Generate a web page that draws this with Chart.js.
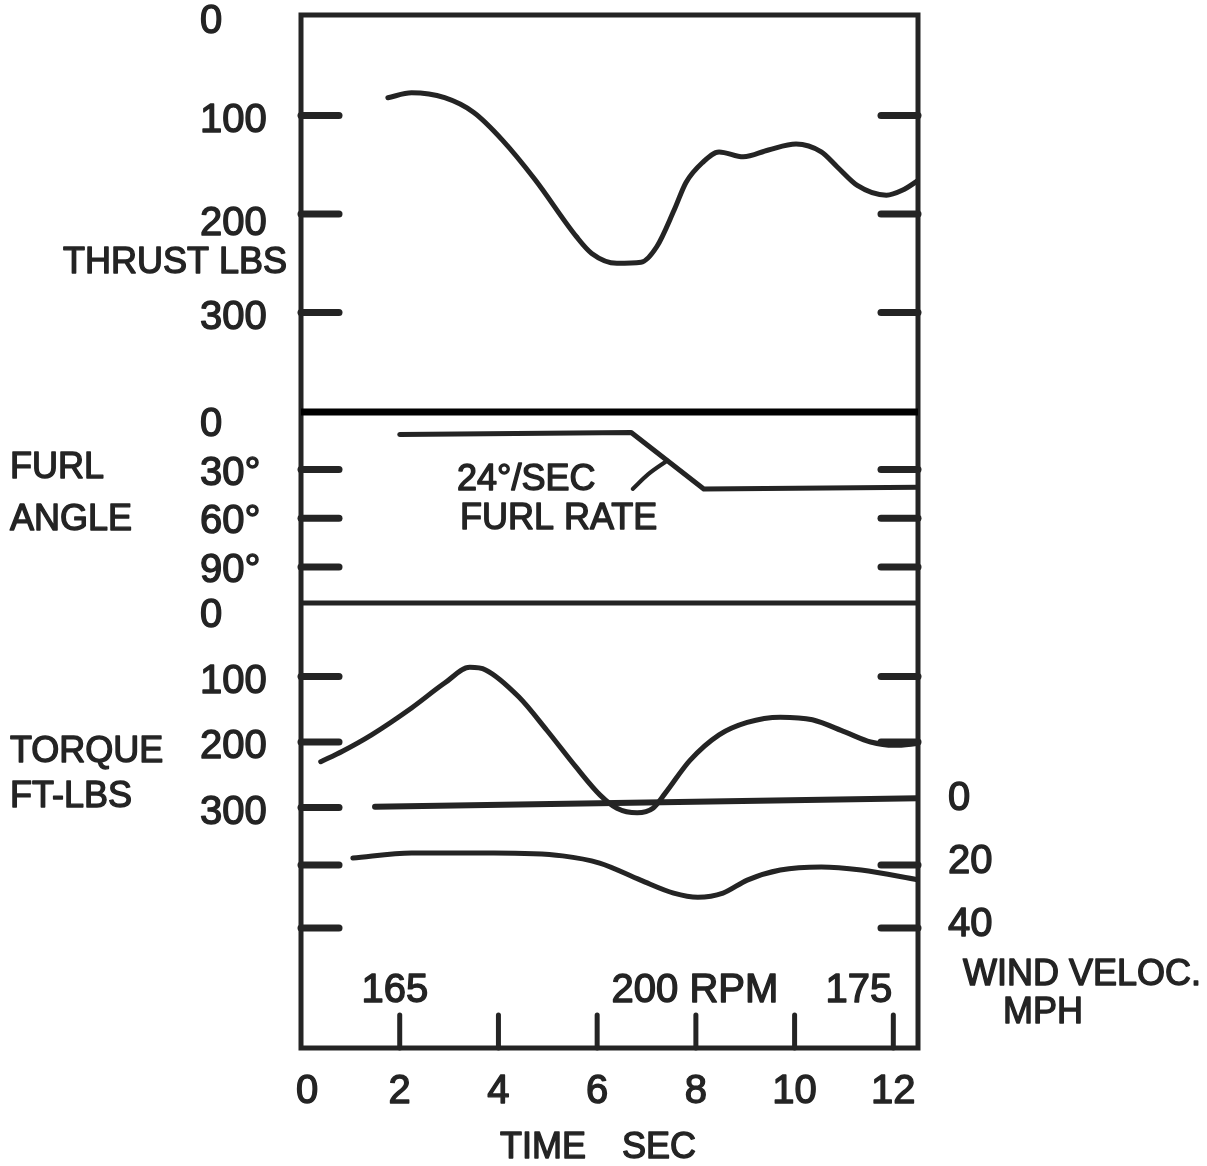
<!DOCTYPE html>
<html>
<head>
<meta charset="utf-8">
<script src="https://cdn.jsdelivr.net/npm/chart.js@4"></script>
<style>
  body { margin: 0; background: #fff; }
  canvas { display: block; }
</style>
</head>
<body>
<canvas id="chart" width="1207" height="1166"></canvas>
<script>
// time axis, sec
const timeTicks = [0, 2, 4, 6, 8, 10, 12];

// thrust, lbs (axis runs downward)
const thrustTicks = [0, 100, 200, 300];
const thrustTime = [1.76, 2.24, 2.91, 3.50, 4.08, 4.74, 5.58, 5.89, 6.40, 6.89, 7.21, 7.56, 7.80, 8.13, 8.47, 8.96, 9.47, 10.03, 10.54, 10.86, 11.27, 11.86, 12.18, 12.53];
const thrustLbs = [82, 77, 82, 97, 125, 165, 223, 240, 250, 249, 233, 196, 168, 148, 137, 142, 135, 129, 137, 152, 171, 181, 176, 165];

// furl angle, degrees
const furlTicks = [0, 30, 60, 90];
const furlLabels = ['0', '30°', '60°', '90°'];
const furlTime = [2.0, 6.69, 8.16, 12.5];
const furlDeg = [8.5, 7.2, 42, 41];
// leader from the "24°/SEC" note to the furl ramp
const leaderTime = [6.72, 7.03, 7.42];
const leaderDeg = [42, 33, 24.5];

// torque, ft-lbs (axis runs downward)
const torqueTicks = [0, 100, 200, 300];
const torqueTime = [0.40, 0.84, 1.43, 2.24, 2.91, 3.42, 3.74, 4.41, 4.98, 5.57, 6.06, 6.40, 6.81, 7.13, 7.38, 7.88, 8.47, 9.04, 9.71, 10.36, 11.03, 11.54, 12.02, 12.53];
const torqueFtLbs = [230, 214, 189, 148, 110, 86, 90, 131, 182, 238, 281, 301, 308, 301, 278, 228, 189, 170, 162, 166, 185, 200, 205, 202];

// wind velocity, mph (right axis, runs downward)
const windTicks = [0, 20, 40];
const windTime = [1.05, 2.24, 3.91, 5.30, 6.05, 6.88, 7.55, 8.04, 8.55, 9.04, 9.71, 10.54, 11.35, 12.53];
const windMph = [17.8, 16.2, 16.2, 17.1, 19.4, 24.8, 28.9, 30.2, 28.9, 24.8, 21.6, 20.6, 21.6, 24.8];
const windZeroTime = [1.5, 12.5];
const windZeroMph = [1.5, -1.2];

// rotor speed notes along the time axis
const rpmTime = [1.9, 7.98, 11.3];
const rpmText = ['165', '200 RPM', '175'];

function pts(xs, ys) {
  return xs.map((x, i) => ({ x: x, y: ys[i] }));
}

const ink = '#242424';
const wordFont = '36px "Liberation Sans", Arial, sans-serif';
const numFont = '40px "Liberation Sans", Arial, sans-serif';

function line(data, axis, width, straight) {
  return {
    data: data,
    yAxisID: axis,
    borderColor: ink,
    borderWidth: width || 5,
    pointRadius: 0,
    cubicInterpolationMode: straight ? 'default' : 'monotone',
    tension: straight ? 0 : 0.4,
    borderCapStyle: 'round',
    borderJoinStyle: 'round',
    fill: false
  };
}

// write text twice so the strokes read as heavy pen lettering
function ink2(ctx, text, x, y) {
  ctx.fillText(text, x, y);
  ctx.strokeText(text, x, y);
}

const sketch = {
  id: 'sketch',
  afterDatasetsDraw(chart) {
    const ctx = chart.ctx;
    const a = chart.chartArea;
    const s = chart.scales;
    ctx.save();
    ctx.strokeStyle = ink;
    ctx.lineCap = 'round';

    // frame
    ctx.lineWidth = 5;
    ctx.strokeRect(a.left, a.top, a.right - a.left, a.bottom - a.top);
    ctx.lineCap = 'butt';
    ctx.strokeStyle = '#000';
    ctx.lineWidth = 7;
    ctx.beginPath();
    ctx.moveTo(a.left, s.yThrust.bottom);
    ctx.lineTo(a.right, s.yThrust.bottom);
    ctx.stroke();
    ctx.strokeStyle = ink;
    ctx.lineWidth = 5;
    ctx.beginPath();
    ctx.moveTo(a.left, s.yFurl.bottom);
    ctx.lineTo(a.right, s.yFurl.bottom);
    ctx.stroke();

    // tick marks on both sides
    ctx.lineCap = 'round';
    ctx.lineWidth = 7;
    function marks(scale, values, left, right) {
      values.forEach(v => {
        const y = scale.getPixelForValue(v);
        if (left) {
          ctx.beginPath(); ctx.moveTo(a.left, y); ctx.lineTo(a.left + 38, y); ctx.stroke();
        }
        if (right) {
          ctx.beginPath(); ctx.moveTo(a.right - 37, y); ctx.lineTo(a.right, y); ctx.stroke();
        }
      });
    }
    marks(s.yThrust, thrustTicks.slice(1), true, true);
    marks(s.yFurl, furlTicks.slice(1), true, true);
    marks(s.yTorque, torqueTicks.slice(1), true, false);
    marks(s.yTorque, [100, 200], false, true);
    marks(s.yWind, windTicks.slice(1), true, true);

    // time ticks rising from the bottom edge
    ctx.lineWidth = 5;
    timeTicks.slice(1).forEach(t => {
      const x = s.x.getPixelForValue(t);
      ctx.beginPath(); ctx.moveTo(x, a.bottom); ctx.lineTo(x, a.bottom - 33); ctx.stroke();
    });

    // tick labels
    ctx.fillStyle = ink;
    ctx.lineWidth = 1.4;
    ctx.lineJoin = 'round';
    ctx.font = numFont;
    ctx.textBaseline = 'middle';
    ctx.textAlign = 'left';
    const lx = a.left - 101;
    thrustTicks.forEach(v => ink2(ctx, String(v), lx, s.yThrust.getPixelForValue(v) + (v === 200 ? 10 : 5)));
    furlTicks.forEach((v, i) => ink2(ctx, furlLabels[i], lx, s.yFurl.getPixelForValue(v) + 4));
    torqueTicks.forEach(v => ink2(ctx, String(v), lx, s.yTorque.getPixelForValue(v) + 5));
    windTicks.forEach(v => ink2(ctx, String(v), a.right + 30, s.yWind.getPixelForValue(v) - 3));
    ctx.textAlign = 'center';
    timeTicks.forEach(t => ink2(ctx, String(t), s.x.getPixelForValue(t) + (t === 0 ? 6 : 0), a.bottom + 44));
    rpmTime.forEach((t, i) => ink2(ctx, rpmText[i], s.x.getPixelForValue(t), a.bottom - 57));

    // axis titles
    ctx.font = wordFont;
    ctx.textAlign = 'left';
    ink2(ctx, 'THRUST LBS', 63, 263);
    ink2(ctx, 'FURL', 10, 468);
    ink2(ctx, 'ANGLE', 10, 520);
    ink2(ctx, 'TORQUE', 10, 752);
    ink2(ctx, 'FT-LBS', 10, 797);
    ink2(ctx, 'WIND VELOC.', 963, 975);
    ink2(ctx, 'MPH', 1003, 1013);
    ctx.textAlign = 'center';
    ink2(ctx, 'TIME', 543, 1148);
    ink2(ctx, 'SEC', 659, 1148);

    // furl rate note
    ctx.textAlign = 'left';
    ink2(ctx, '24°/SEC', s.x.getPixelForValue(3.16), s.yFurl.getPixelForValue(36.5));
    ink2(ctx, 'FURL RATE', s.x.getPixelForValue(3.22), s.yFurl.getPixelForValue(60.5));
    ctx.restore();
  }
};

new Chart(document.getElementById('chart'), {
  type: 'line',
  data: {
    datasets: [
      line(pts(thrustTime, thrustLbs), 'yThrust'),
      line(pts(furlTime, furlDeg), 'yFurl', 5, true),
      line(pts(leaderTime, leaderDeg), 'yFurl', 4),
      line(pts(torqueTime, torqueFtLbs), 'yTorque'),
      line(pts(windZeroTime, windZeroMph), 'yWind', 6, true),
      line(pts(windTime, windMph), 'yWind')
    ]
  },
  options: {
    responsive: false,
    animation: false,
    devicePixelRatio: 1,
    layout: { padding: { left: 301, right: 289, top: 15, bottom: 118 } },
    plugins: { legend: { display: false }, tooltip: { enabled: false } },
    scales: {
      x: { type: 'linear', min: 0, max: 12.5, display: false },
      yThrust: { position: 'left', stack: 'v', stackWeight: 397, weight: 3, reverse: true, min: -2, max: 401, display: false },
      yFurl: { position: 'left', stack: 'v', stackWeight: 191, weight: 2, reverse: true, min: -5.4, max: 112.2, display: false },
      yTorque: { position: 'left', stack: 'v', stackWeight: 445, weight: 1, reverse: true, min: -12.2, max: 667, display: false },
      rThrust: { position: 'right', stack: 'v', stackWeight: 397, weight: 1, min: 0, max: 1, display: false },
      rFurl: { position: 'right', stack: 'v', stackWeight: 191, weight: 2, min: 0, max: 1, display: false },
      yWind: { position: 'right', stack: 'v', stackWeight: 445, weight: 3, reverse: true, min: -63.2, max: 78.1, display: false }
    }
  },
  plugins: [sketch]
});
</script>
</body>
</html>
